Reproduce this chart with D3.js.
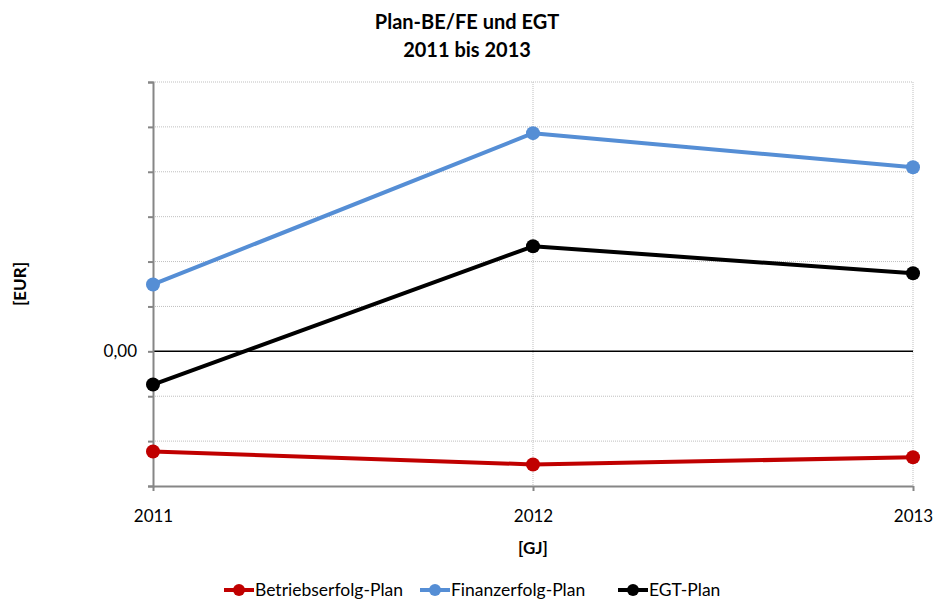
<!DOCTYPE html>
<html>
<head>
<meta charset="utf-8">
<script src="https://cdn.jsdelivr.net/npm/d3@7"></script>
<style>
  body { margin: 0; background: #fff; }
  svg { display: block; font-family: Lato, "Open Sans", sans-serif; }
</style>
</head>
<body>
<svg id="chart" width="935" height="599"></svg>
<script>
// Fiscal years and planned results (EUR, scaled units)
const years = ["2011", "2012", "2013"];
const betriebserfolg = [-2.23, -2.52, -2.36];
const finanzerfolg = [1.49, 4.86, 4.10];
const egt = [-0.74, 2.34, 1.74];
const yTicks = [-3, -2, -1, 0, 1, 2, 3, 4, 5, 6];

const series = [
  { name: "Betriebserfolg-Plan", values: betriebserfolg, color: "#c00000" },
  { name: "Finanzerfolg-Plan", values: finanzerfolg, color: "#558ed5" },
  { name: "EGT-Plan", values: egt, color: "#000000" }
];

const svg = d3.select("#chart");
const plotLeft = 153, plotRight = 913, plotTop = 82, plotBottom = 486;

const x = d3.scalePoint().domain(years).range([plotLeft, plotRight]);
const y = d3.scaleLinear().domain([-3, 6]).range([plotBottom, plotTop]);

// Horizontal gridlines
svg.append("g").selectAll("line")
  .data(yTicks.filter(t => t !== 0 && t !== -3))
  .join("line")
  .attr("x1", plotLeft).attr("x2", plotRight)
  .attr("y1", d => y(d)).attr("y2", d => y(d))
  .attr("stroke", "#bfbfbf").attr("stroke-width", 1)
  .attr("stroke-dasharray", "1,1");

// Vertical gridlines
svg.append("g").selectAll("line")
  .data(years.slice(1))
  .join("line")
  .attr("x1", d => x(d)).attr("x2", d => x(d))
  .attr("y1", plotTop).attr("y2", plotBottom)
  .attr("stroke", "#bfbfbf").attr("stroke-width", 1)
  .attr("stroke-dasharray", "1,1");

// Zero line
svg.append("line")
  .attr("x1", plotLeft).attr("x2", plotRight)
  .attr("y1", y(0)).attr("y2", y(0))
  .attr("stroke", "#000").attr("stroke-width", 1.5);

// Y axis
const yAxis = svg.append("g")
  .attr("transform", `translate(${plotLeft},0)`)
  .call(d3.axisLeft(y).tickValues(yTicks).tickSize(5)
    .tickFormat(d => d === 0 ? "0,00" : ""));
yAxis.select(".domain").attr("stroke", "#868686").attr("stroke-width", 2);
yAxis.selectAll(".tick line").attr("stroke", "#868686").attr("stroke-width", 2);
yAxis.selectAll(".tick text")
  .attr("x", -16).attr("font-size", 17).attr("fill", "#000")
  .attr("font-family", "Lato, sans-serif");

// X axis
const xAxis = svg.append("g")
  .attr("transform", `translate(0,${plotBottom})`)
  .call(d3.axisBottom(x).tickSize(5).tickSizeOuter(0));
xAxis.select(".domain").attr("stroke", "#868686").attr("stroke-width", 2);
xAxis.selectAll(".tick line").attr("stroke", "#868686").attr("stroke-width", 2);
xAxis.selectAll(".tick text")
  .attr("y", 24).attr("font-size", 17).attr("fill", "#000")
  .attr("font-family", "Lato, sans-serif");

// Lines and markers
const line = d3.line().x((d, i) => x(years[i])).y(d => y(d));
series.forEach(s => {
  svg.append("path")
    .datum(s.values)
    .attr("d", line)
    .attr("fill", "none")
    .attr("stroke", s.color)
    .attr("stroke-width", 4)
    .attr("stroke-linejoin", "round");
  svg.append("g").selectAll("circle")
    .data(s.values)
    .join("circle")
    .attr("cx", (d, i) => x(years[i]))
    .attr("cy", d => y(d))
    .attr("r", 7)
    .attr("fill", s.color);
});

// Title
const title = svg.append("text")
  .attr("text-anchor", "middle")
  .attr("font-weight", "bold").attr("font-size", 20);
title.append("tspan").attr("x", 467).attr("y", 29).text("Plan-BE/FE und EGT");
title.append("tspan").attr("x", 467).attr("y", 57).text("2011 bis 2013");

// Axis titles
svg.append("text")
  .attr("x", 533).attr("y", 554)
  .attr("text-anchor", "middle")
  .attr("font-weight", "bold").attr("font-size", 17)
  .text("[GJ]");
svg.append("text")
  .attr("transform", "translate(26,284) rotate(-90)")
  .attr("text-anchor", "middle")
  .attr("font-weight", "bold").attr("font-size", 17)
  .text("[EUR]");

// Legend
const legendX = [224, 420, 618];
const legend = svg.append("g").selectAll("g")
  .data(series)
  .join("g")
  .attr("transform", (d, i) => `translate(${legendX[i]},590)`);
legend.append("line")
  .attr("x1", 0).attr("x2", 30)
  .attr("stroke", d => d.color).attr("stroke-width", 4);
legend.append("circle")
  .attr("cx", 15).attr("r", 6)
  .attr("fill", d => d.color);
legend.append("text")
  .attr("x", 31).attr("y", 6)
  .attr("font-size", 17.5)
  .text(d => d.name);
</script>
</body>
</html>
